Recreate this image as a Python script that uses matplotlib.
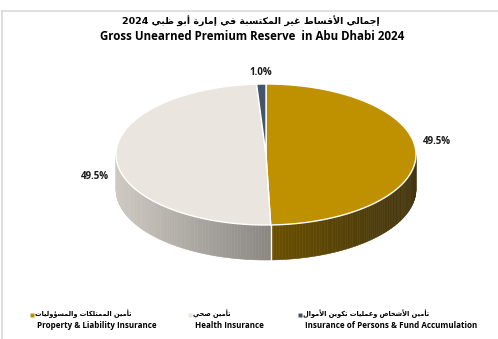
import numpy as np
import matplotlib
matplotlib.use("Agg")
import matplotlib.pyplot as plt
from matplotlib.patches import Polygon
from matplotlib.colors import to_rgb

title_ar = "إجمالي الأقساط غير المكتسبة في إمارة أبو ظبي 2024"
title_en = "Gross Unearned Premium Reserve  in Abu Dhabi 2024"

labels_en = ["Property & Liability Insurance", "Health Insurance",
             "Insurance of Persons & Fund Accumulation"]
labels_ar = ["تأمين الممتلكات والمسؤوليات", "تأمين صحي",
             "تأمين الأشخاص وعمليات تكوين الأموال"]
shares = [49.5, 49.5, 1.0]

top_colors = ["#BF9000", "#EAE6DF", "#44546A"]
side_colors = [("#6A5000", "#433510"), ("#CEC9C2", "#8A8682"), ("#2E3A4A", "#2E3A4A")]

LATIN = ["Open Sans", "DejaVu Sans"]


# --- minimal arabic shaping (matplotlib has no text shaping) ---
FORMS = {
    "ا": (0xFE8D, 2), "أ": (0xFE83, 2), "إ": (0xFE87, 2), "آ": (0xFE81, 2),
    "ؤ": (0xFE85, 2), "د": (0xFEA9, 2), "ذ": (0xFEAB, 2), "ر": (0xFEAD, 2),
    "ز": (0xFEAF, 2), "و": (0xFEED, 2), "ة": (0xFE93, 2), "ى": (0xFEEF, 2),
    "ب": (0xFE8F, 4), "ت": (0xFE95, 4), "ث": (0xFE99, 4), "ج": (0xFE9D, 4),
    "ح": (0xFEA1, 4), "خ": (0xFEA5, 4), "س": (0xFEB1, 4), "ش": (0xFEB5, 4),
    "ص": (0xFEB9, 4), "ض": (0xFEBD, 4), "ط": (0xFEC1, 4), "ظ": (0xFEC5, 4),
    "ع": (0xFEC9, 4), "غ": (0xFECD, 4), "ف": (0xFED1, 4), "ق": (0xFED5, 4),
    "ك": (0xFED9, 4), "ل": (0xFEDD, 4), "م": (0xFEE1, 4), "ن": (0xFEE5, 4),
    "ه": (0xFEE9, 4), "ي": (0xFEF1, 4), "ئ": (0xFE89, 4),
}
LAM_ALEF = {"ا": 0xFEFB, "أ": 0xFEF7, "إ": 0xFEF9, "آ": 0xFEF5}


def shape_word(word):
    units = []
    i = 0
    while i < len(word):
        c = word[i]
        if c == "ل" and i + 1 < len(word) and word[i + 1] in LAM_ALEF:
            units.append((LAM_ALEF[word[i + 1]], 2))
            i += 2
        elif c in FORMS:
            units.append(FORMS[c])
            i += 1
        else:
            units.append((c, 0))
            i += 1
    out = []
    for k, (base, n) in enumerate(units):
        if n == 0:
            out.append(base)
            continue
        prev_dual = k > 0 and units[k - 1][1] == 4
        next_ok = k + 1 < len(units) and units[k + 1][1] > 0
        if n == 4:
            if prev_dual and next_ok:
                code = base + 3
            elif prev_dual:
                code = base + 1
            elif next_ok:
                code = base + 2
            else:
                code = base
        else:
            code = base + 1 if prev_dual else base
        out.append(chr(code))
    return "".join(reversed(out))


def rtl(text):
    words = text.split(" ")
    return " ".join(w if w.isdigit() else shape_word(w) for w in reversed(words))


W, H = 498, 339
fig = plt.figure(figsize=(W / 100, H / 100), dpi=100)
ax = fig.add_axes([0, 0, 1, 1])
ax.set_xlim(0, W)
ax.set_ylim(H, 0)
ax.axis("off")

# frame lines (top and left only visible)
ax.plot([1.5, W], [10.5, 10.5], color="#D9D9D9", lw=1.2)
ax.plot([1.5, 1.5], [10.5, H], color="#D9D9D9", lw=1.2)

# pie geometry (pixels)
cx, cy, rx, ry, depth = 266, 154.5, 150, 70.5, 35


def pt(t):
    return cx + rx * np.sin(t), cy - ry * np.cos(t)


bounds = np.concatenate([[0], np.cumsum(shares)]) / np.sum(shares) * 2 * np.pi

# sides (front half only: pi/2 .. 3pi/2)
for i in range(len(shares)):
    a0 = max(bounds[i], np.pi / 2)
    a1 = min(bounds[i + 1], 3 * np.pi / 2)
    if a1 <= a0:
        continue
    ts = np.linspace(a0, a1, 80)
    xs, ys = pt(ts)
    xl, xr = xs.min(), xs.max()
    cl, cr = np.array(to_rgb(side_colors[i][0])), np.array(to_rgb(side_colors[i][1]))
    for j in range(len(ts) - 1):
        f = ((xs[j] + xs[j + 1]) / 2 - xl) / (xr - xl)
        col = cl + (cr - cl) * f
        poly = [(xs[j], ys[j]), (xs[j + 1], ys[j + 1]),
                (xs[j + 1], ys[j + 1] + depth), (xs[j], ys[j] + depth)]
        ax.add_patch(Polygon(poly, closed=True, facecolor=col, edgecolor=col, lw=0.4))

# white separators on the side
for b in bounds[1:-1]:
    if np.pi / 2 < b < 3 * np.pi / 2:
        x, y = pt(b)
        ax.plot([x, x], [y, y + depth], color="white", lw=1.0)

# top faces
for i in range(len(shares)):
    ts = np.linspace(bounds[i], bounds[i + 1], 200)
    xs, ys = pt(ts)
    poly = [(cx, cy)] + list(zip(xs, ys))
    ax.add_patch(Polygon(poly, closed=True, facecolor=top_colors[i],
                         edgecolor="white", lw=1.0, joinstyle="round"))

# percentage labels
label_dy = [-12, 18, -2]
for i, s in enumerate(shares):
    t = (bounds[i] + bounds[i + 1]) / 2
    x = cx + 1.14 * rx * np.sin(t)
    y = cy - 1.14 * ry * np.cos(t) + label_dy[i]
    ax.text(x, y, f"{s:.1f}%", ha="center", va="center", fontsize=7,
            fontweight="bold", family=LATIN, color="#1A1A1A")

# titles
ax.text(251, 21, rtl(title_ar), ha="center", va="center", fontsize=6.8,
        fontweight="bold", family="DejaVu Sans", color="black")
ax.text(252, 36, title_en, ha="center", va="center", fontsize=8.3,
        fontweight="bold", family=LATIN, color="black")

# legend
leg_x = [32, 190, 300]
for i in range(len(shares)):
    x0 = leg_x[i]
    ax.plot(x0, 314.5, marker="s", ms=2.6, color=top_colors[i], mec="none")
    ax.text(x0 + 3, 314, rtl(labels_ar[i]), ha="left", va="center", fontsize=4.8,
            fontweight="bold", family="DejaVu Sans", color="black")
    ax.text(x0 + 5, 325.5, labels_en[i], ha="left", va="center", fontsize=5.8,
            fontweight="bold", family=LATIN, color="black")

fig.savefig("out.png", dpi=100)
